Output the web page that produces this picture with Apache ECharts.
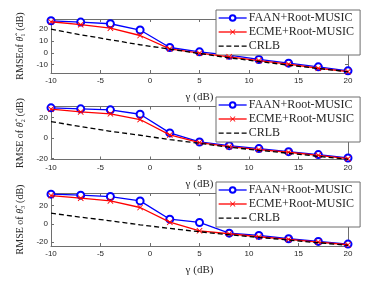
<!DOCTYPE html>
<html><head><meta charset="utf-8">
<script src="https://cdn.jsdelivr.net/npm/echarts@6/dist/echarts.min.js"></script>
<style>html,body{margin:0;padding:0;background:#fff}#c{width:385px;height:289px}</style>
</head><body><div id="c"></div>
<script>
var gammaDB = [-10, -7, -4, -1, 2, 5, 8, 11, 14, 17, 20];
var xTicks = [-10, -5, 0, 5, 10, 15, 20];
var names = ['FAAN+Root-MUSIC', 'ECME+Root-MUSIC', 'CRLB'];

var faan1 = [27.0, 25.9, 24.5, 19.2, 4.5, 0.8, -2.0, -5.6, -8.7, -11.8, -15.2];
var ecme1 = [26.2, 23.7, 20.8, 14.6, 3.4, -0.3, -3.4, -6.5, -9.6, -13.0, -15.8];
var crlb1 = [20.0, 15.2, 11.0, 6.8, 3.1, -0.6, -4.2, -7.3, -10.4, -13.2, -16.0];

var faan2 = [29.7, 28.7, 27.7, 23.4, 5.1, -3.8, -7.4, -10.3, -13.3, -16.2, -19.5];
var ecme2 = [28.4, 25.7, 23.8, 18.2, 3.1, -4.4, -8.4, -11.3, -13.9, -16.9, -20.2];
var crlb2 = [16.2, 11.3, 6.7, 2.8, -1.5, -5.1, -9.0, -12.0, -14.9, -17.9, -20.8];

var faan3 = [32.7, 31.6, 30.1, 25.3, 5.1, 1.5, -10.3, -12.8, -16.5, -19.4, -22.4];
var ecme3 = [31.2, 28.3, 25.3, 18.0, 1.8, -7.7, -11.0, -14.3, -17.2, -20.2, -23.1];
var crlb3 = [11.7, 7.3, 3.3, -1.1, -5.1, -8.8, -12.1, -15.0, -18.0, -20.9, -23.9];

var yTicks1 = [-10, 0, 10, 20];
var yTicks2 = [-20, 0, 20];
var yTicks3 = [-20, 0, 20];

var yNames = ['RMSEof {i|θ̂}₁ (dB)', 'RMSE of {i|θ̂}₂ (dB)', 'RMSE of {i|θ̂}₃ (dB)'];
var panels = [
  {faan: faan1, ecme: ecme1, crlb: crlb1, yt: yTicks1, ymin: -17, ymax: 28.5, top: 19, h: 54, lt: 10},
  {faan: faan2, ecme: ecme2, crlb: crlb2, yt: yTicks2, ymin: -21, ymax: 31, top: 106.5, h: 53, lt: 97},
  {faan: faan3, ecme: ecme3, crlb: crlb3, yt: yTicks3, ymin: -24.5, ymax: 34, top: 193, h: 53, lt: 182}
];

function pairs(v) { return gammaDB.map(function (x, i) { return [x, v[i]]; }); }

var axisCol = '#6e6e6e';
var txtCol = '#262626';
var crossPath = 'path://M0,1L1,0L5,4L9,0L10,1L6,5L10,9L9,10L5,6L1,10L0,9L4,5Z';
// dashed-line legend icon, 28 x 7 box
var dashIcon = 'path://M0,0L0.01,0L0,0Z M0,7L0.01,7L0,7Z M28,0L28.01,0L28,0Z' +
  ' M0,2.9h5v1.3h-5Z M7.7,2.9h5v1.3h-5Z M15.4,2.9h5v1.3h-5Z M23,2.9h5v1.3h-5Z';

var grids = [], xAxes = [], yAxes = [], series = [], legends = [];
panels.forEach(function (p, k) {
  grids.push({left: 51, right: 37, top: p.top, height: p.h, show: false});
  xAxes.push({
    type: 'value', gridIndex: k, min: -10, max: 20, interval: 5, position: 'bottom',
    name: 'γ (dB)', nameLocation: 'middle', nameGap: 19,
    nameTextStyle: {fontFamily: 'Liberation Serif', fontSize: 11, color: txtCol},
    axisLine: {show: true, onZero: false, lineStyle: {color: axisCol, width: 1}},
    axisTick: {show: true, inside: true, length: 3, lineStyle: {color: axisCol}},
    axisLabel: {fontFamily: 'Liberation Sans', fontSize: 8, color: txtCol, margin: 4},
    splitLine: {show: false}
  });
  xAxes.push({
    type: 'value', gridIndex: k, min: -10, max: 20, interval: 5, position: 'top',
    axisLine: {show: true, onZero: false, lineStyle: {color: axisCol, width: 1}},
    axisTick: {show: true, inside: true, length: 3, lineStyle: {color: axisCol}},
    axisLabel: {show: false}, splitLine: {show: false}
  });
  yAxes.push({
    type: 'value', gridIndex: k, min: p.ymin, max: p.ymax, position: 'left',
    name: yNames[k], nameLocation: 'middle', nameGap: 19, nameRotate: 90,
    nameTextStyle: {fontFamily: 'Liberation Serif', fontSize: 10, color: txtCol,
      rich: {i: {fontFamily: 'Liberation Serif', fontStyle: 'italic', fontSize: 10, color: txtCol}}},
    axisLine: {show: true, onZero: false, lineStyle: {color: axisCol, width: 1}},
    axisTick: {show: true, inside: true, length: 3, customValues: p.yt, lineStyle: {color: axisCol}},
    axisLabel: {fontFamily: 'Liberation Sans', fontSize: 8, color: txtCol, margin: 3, customValues: p.yt},
    splitLine: {show: false}
  });
  yAxes.push({
    type: 'value', gridIndex: k, min: p.ymin, max: p.ymax, position: 'right',
    axisLine: {show: true, onZero: false, lineStyle: {color: axisCol, width: 1}},
    axisTick: {show: true, inside: true, length: 3, customValues: p.yt, lineStyle: {color: axisCol}},
    axisLabel: {show: false, customValues: p.yt}, splitLine: {show: false}
  });
  series.push({
    name: names[0], type: 'line', xAxisIndex: 2 * k, yAxisIndex: 2 * k, data: pairs(p.faan),
    symbol: 'emptyCircle', symbolSize: 7, showAllSymbol: true,
    lineStyle: {color: '#0000ff', width: 1.3},
    itemStyle: {color: '#0000ff', borderColor: '#0000ff', borderWidth: 1.2}, z: 3
  });
  series.push({
    name: names[1], type: 'line', xAxisIndex: 2 * k, yAxisIndex: 2 * k, data: pairs(p.ecme),
    symbol: crossPath, symbolSize: 6, showAllSymbol: true,
    lineStyle: {color: '#ff0000', width: 1.3},
    itemStyle: {color: '#ff0000'}, z: 4
  });
  series.push({
    name: names[2], type: 'line', xAxisIndex: 2 * k, yAxisIndex: 2 * k, data: pairs(p.crlb),
    symbol: 'none', lineStyle: {color: '#000000', width: 1.3, type: [5, 3]},
    itemStyle: {color: '#000000'}, z: 5
  });
  legends.push({
    data: [names[0], names[1], {name: names[2], icon: dashIcon, itemStyle: {color: '#000000'}}],
    orient: 'vertical', left: 216, top: p.lt, width: 140,
    itemWidth: 28, itemHeight: 7, itemGap: 2, padding: [2, 6, 3, 2],
    backgroundColor: '#ffffff', borderColor: '#6e6e6e', borderWidth: 1,
    lineStyle: {width: 1.3},
    textStyle: {fontFamily: 'Liberation Serif', fontSize: 12, color: txtCol, padding: [0, 0, 0, -3]},
    selectedMode: false
  });
});

var chart = echarts.init(document.getElementById('c'), null, {renderer: 'canvas'});
chart.setOption({
  animation: false,
  backgroundColor: '#ffffff',
  grid: grids, xAxis: xAxes, yAxis: yAxes, series: series, legend: legends
});
</script></body></html>
